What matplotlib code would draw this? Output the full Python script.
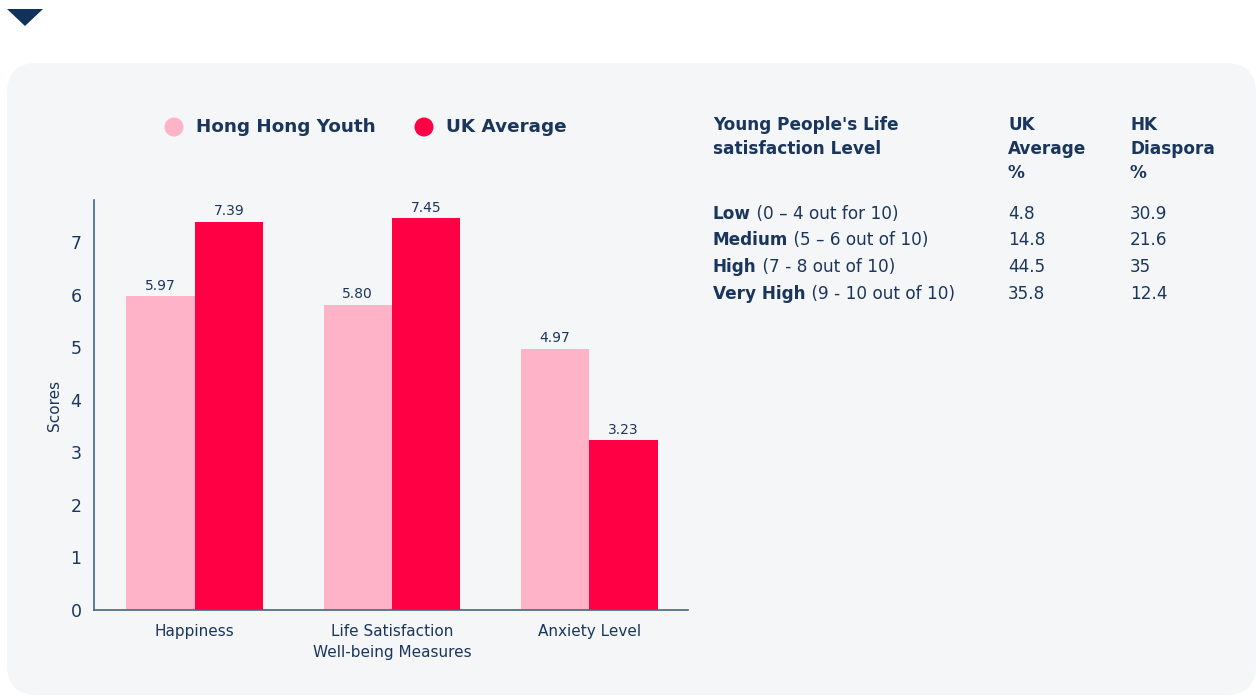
import numpy as np
import matplotlib.pyplot as plt
from matplotlib.patches import FancyBboxPatch, Polygon, Circle

# data
categories = ['Happiness', 'Life Satisfaction\nWell-being Measures', 'Anxiety Level']
hk_youth = [5.97, 5.80, 4.97]
uk_avg = [7.39, 7.45, 3.23]
series_names = ['Hong Hong Youth', 'UK Average']

table_bold = ['Low', 'Medium', 'High', 'Very High']
table_rest = [' (0 \u2013 4 out for 10)', ' (5 \u2013 6 out of 10)', ' (7 - 8 out of 10)', ' (9 - 10 out of 10)']
table_uk = ['4.8', '14.8', '44.5', '35.8']
table_hk = ['30.9', '21.6', '35', '12.4']

navy = '#1b365d'
pink = '#ffb3c8'
red = '#ff0044'
panel = '#f4f6f8'

W, H = 1257, 696
fig = plt.figure(figsize=(W / 100, H / 100), dpi=100)
fig.patch.set_facecolor('white')

# overlay axes in pixel coordinates for panel, legend and table
bgax = fig.add_axes([0, 0, 1, 1], zorder=0)
bgax.set_xlim(0, W)
bgax.set_ylim(H, 0)
bgax.axis('off')
bgax.add_patch(FancyBboxPatch((7, 63), 1249, 632, boxstyle='round,pad=0,rounding_size=30',
                              facecolor=panel, edgecolor='none'))
bgax.add_patch(Polygon([(7, 9), (43, 9), (25, 26)], closed=True, facecolor='#12325c', edgecolor='none'))

# legend
for cx, col, name in ((174, pink, series_names[0]), (424, red, series_names[1])):
    bgax.add_patch(Circle((cx, 127), 9.5, facecolor=col, edgecolor='none'))
    bgax.text(cx + 22, 127, name, fontsize=13.2, fontweight='semibold', color=navy,
              va='center', ha='left')

# table
hfs = 12.2
bgax.text(713, 125, "Young People's Life", fontsize=hfs, fontweight='bold', color=navy, va='center')
bgax.text(713, 149, 'satisfaction Level', fontsize=hfs, fontweight='bold', color=navy, va='center')
for px, lines in ((1008, ['UK', 'Average', '%']), (1130, ['HK', 'Diaspora', '%'])):
    for i, t in enumerate(lines):
        bgax.text(px, 125 + 24 * i, t, fontsize=hfs, fontweight='bold', color=navy, va='center')

row_y = [214, 240, 267, 294]
for yy, bold, rest, uk, hk in zip(row_y, table_bold, table_rest, table_uk, table_hk):
    t = bgax.text(713, yy, bold, fontsize=hfs, fontweight='bold', color=navy, va='center')
    bgax.annotate(rest, xy=(1, 0.5), xycoords=t, fontsize=hfs, color=navy, va='center', ha='left')
    bgax.text(1008, yy, uk, fontsize=hfs, color=navy, va='center')
    bgax.text(1130, yy, hk, fontsize=hfs, color=navy, va='center')

# bar chart
ax = fig.add_axes([94 / W, 1 - 610 / H, 594 / W, 410 / H], zorder=2)
ax.set_facecolor('none')
x = np.arange(len(categories))
w = 0.347
b1 = ax.bar(x - w / 2, hk_youth, w, color=pink)
b2 = ax.bar(x + w / 2, uk_avg, w, color=red)
for bars, vals in ((b1, hk_youth), (b2, uk_avg)):
    for r, v in zip(bars, vals):
        ax.text(r.get_x() + r.get_width() / 2, v + 0.07, f'{v:.2f}', ha='center', va='bottom',
                fontsize=10, color=navy)

ax.set_xlim(-0.51, 2.5)
ax.set_ylim(0, 7.8)
ax.set_yticks(range(8))
ax.set_xticks(x)
ax.set_xticklabels(categories, fontsize=11, color=navy, linespacing=1.5)
ax.tick_params(axis='y', length=0, pad=9, labelsize=12.5, labelcolor=navy)
ax.tick_params(axis='x', length=0, pad=10)
for s in ['top', 'right']:
    ax.spines[s].set_visible(False)
for s in ['left', 'bottom']:
    ax.spines[s].set_color('#45648a')
    ax.spines[s].set_linewidth(1.2)
ax.set_ylabel('Scores', fontsize=11, color=navy, labelpad=6)

fig.savefig('out.png', dpi=100)
